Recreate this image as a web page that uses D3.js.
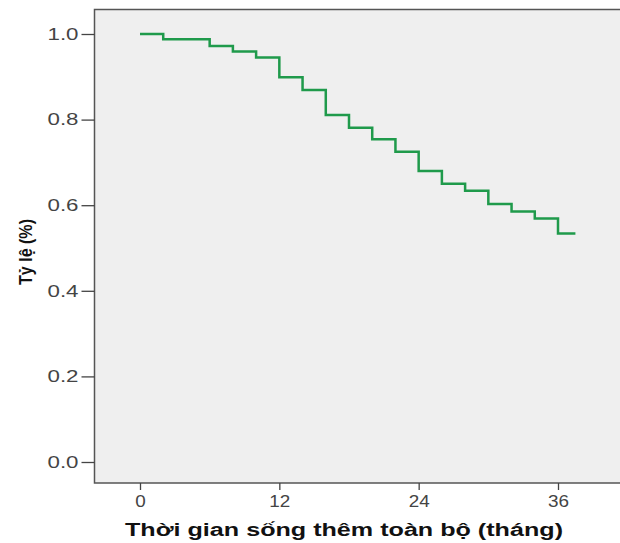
<!DOCTYPE html>
<html><head><meta charset="utf-8">
<script src="https://cdn.jsdelivr.net/npm/d3@7"></script>
<style>
html,body{margin:0;padding:0;background:#fff;}
svg{display:block;}
</style></head>
<body>
<svg id="chart" width="620" height="543"></svg>
<script>
const times = [0, 2, 6, 8, 10, 12, 14, 16, 18, 20, 22, 24, 26, 28, 30, 32, 34, 36];
const survival = [1.000, 0.988, 0.972, 0.959, 0.945, 0.899, 0.869, 0.811, 0.781, 0.754, 0.725, 0.680, 0.650, 0.634, 0.603, 0.585, 0.569, 0.534];
const lastTime = 37.5;
const xTicks = [0, 12, 24, 36];
const yTicks = [0.0, 0.2, 0.4, 0.6, 0.8, 1.0];
const xTitle = "Thời gian sống thêm toàn bộ (tháng)";
const yTitle = "Tỷ lệ (%)";

const svg = d3.select("#chart");
const box = {left: 94.5, top: 9.5, right: 622, bottom: 483};
const x = d3.scaleLinear().domain([0, 36]).range([140, 558]);
const y = d3.scaleLinear().domain([0, 1]).range([462, 34]);

svg.append("rect")
  .attr("x", box.left).attr("y", box.top)
  .attr("width", box.right - box.left).attr("height", box.bottom - box.top)
  .attr("fill", "#efefef").attr("stroke", "#555").attr("stroke-width", 1.5);

const pts = times.map((t, i) => [t, survival[i]]);
pts.push([lastTime, survival[survival.length - 1]]);
svg.append("path")
  .datum(pts)
  .attr("fill", "none")
  .attr("stroke", "#1f9a4b")
  .attr("stroke-width", 2.5)
  .attr("d", d3.line().x(d => x(d[0])).y(d => y(d[1])).curve(d3.curveStepAfter));

const yAxis = svg.append("g")
  .attr("transform", `translate(${box.left},0)`)
  .call(d3.axisLeft(y).tickValues(yTicks).tickFormat(d3.format(".1f")).tickSize(13).tickPadding(3));
yAxis.select(".domain").remove();
yAxis.selectAll("line").attr("stroke", "#444").attr("stroke-width", 1.3);
yAxis.selectAll("text").attr("font-family", "Liberation Sans, Arial, sans-serif")
  .attr("font-size", 16.5).attr("fill", "#444").attr("textLength", 31).attr("lengthAdjust", "spacingAndGlyphs");

const xAxis = svg.append("g")
  .attr("transform", `translate(0,${box.bottom})`)
  .call(d3.axisBottom(x).tickValues(xTicks).tickFormat(d3.format("d")).tickSize(7).tickPadding(5));
xAxis.select(".domain").remove();
xAxis.selectAll("line").attr("stroke", "#444").attr("stroke-width", 1.3);
xAxis.selectAll("text").attr("font-family", "Liberation Sans, Arial, sans-serif")
  .attr("font-size", 16.5).attr("fill", "#444")
  .attr("textLength", d => String(d).length * 10.5).attr("lengthAdjust", "spacingAndGlyphs");

svg.append("text")
  .attr("x", 344).attr("y", 536)
  .attr("text-anchor", "middle")
  .attr("font-family", "Liberation Sans, Arial, sans-serif")
  .attr("font-weight", "bold").attr("font-size", 18).attr("fill", "#111")
  .attr("textLength", 438).attr("lengthAdjust", "spacingAndGlyphs")
  .text(xTitle);

svg.append("text")
  .attr("transform", "translate(32,252) rotate(-90)")
  .attr("text-anchor", "middle")
  .attr("font-family", "Liberation Sans, Arial, sans-serif")
  .attr("font-weight", "bold").attr("font-size", 17.5).attr("fill", "#111")
  .attr("textLength", 66).attr("lengthAdjust", "spacingAndGlyphs")
  .text(yTitle);
</script>
</body></html>
